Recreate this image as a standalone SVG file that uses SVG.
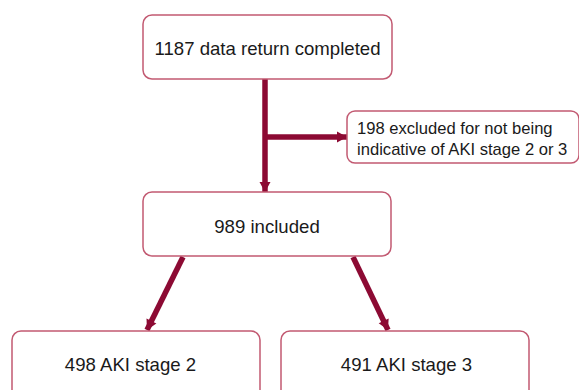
<svg xmlns="http://www.w3.org/2000/svg" width="579" height="390" viewBox="0 0 579 390">
<style>
.box{fill:#fff;stroke:#c25a72;stroke-width:1.5}
.t{font-family:"Liberation Sans",Arial,sans-serif;font-size:18.6px;fill:#1a1a1a;text-anchor:middle}
.s{font-family:"Liberation Sans",Arial,sans-serif;font-size:16.6px;fill:#1a1a1a}
.c{stroke:#8c0a33;stroke-width:5.5;fill:none}
</style>
<defs>
<marker id="ah" markerUnits="userSpaceOnUse" markerWidth="14" markerHeight="14" viewBox="0 0 14 14" refX="12" refY="7" orient="auto">
<path d="M2,1.5 L12,7 L2,12.5 Z" fill="#8c0a33"/>
</marker>
</defs>
<rect x="0" y="0" width="579" height="390" fill="#fff"/>
<g id="connectors">
<line class="c" x1="265" y1="79" x2="265" y2="192" marker-end="url(#ah)"/>
<line class="c" x1="265" y1="137" x2="347" y2="137" marker-end="url(#ah)"/>
<line class="c" x1="183" y1="257" x2="147" y2="330" marker-end="url(#ah)"/>
<line class="c" x1="353" y1="257" x2="388" y2="330" marker-end="url(#ah)"/>
</g>
<g id="n-top">
<rect class="box" x="143" y="15" width="249" height="64" rx="9"/>
<text class="t" x="267.5" y="55">1187 data return completed</text>
</g>
<g id="n-excluded">
<rect class="box" x="347" y="111" width="232" height="52" rx="8"/>
<text class="s" x="357" y="134">198 excluded for not being</text>
<text class="s" x="357" y="155">indicative of AKI stage 2 or 3</text>
</g>
<g id="n-included">
<rect class="box" x="143" y="192" width="248" height="64" rx="9"/>
<text class="t" x="267" y="233">989 included</text>
</g>
<g id="n-stage2">
<rect class="box" x="12" y="331" width="248" height="70" rx="9"/>
<text class="t" x="130.5" y="371">498 AKI stage 2</text>
</g>
<g id="n-stage3">
<rect class="box" x="281" y="331" width="248" height="70" rx="9"/>
<text class="t" x="406.5" y="371">491 AKI stage 3</text>
</g>
</svg>
